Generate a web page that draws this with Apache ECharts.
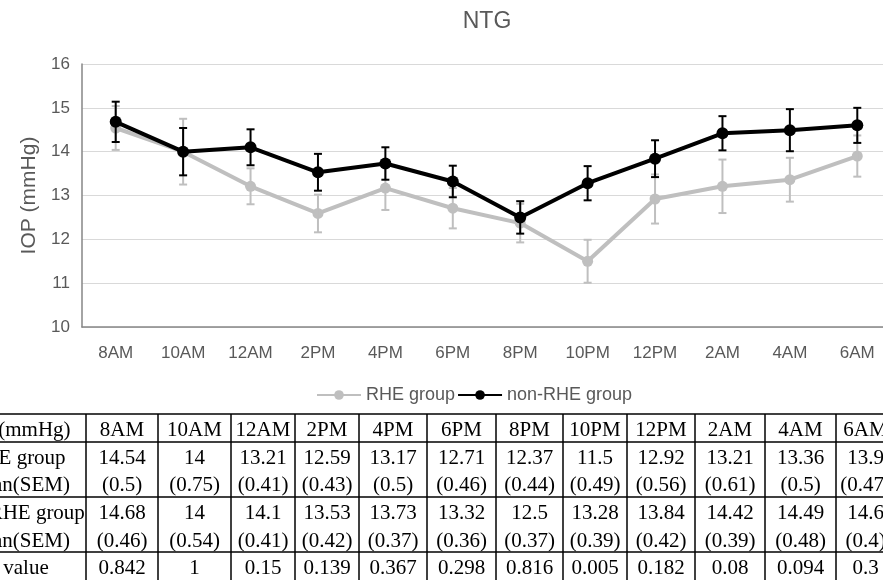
<!DOCTYPE html>
<html>
<head>
<meta charset="utf-8">
<script src="https://cdn.jsdelivr.net/npm/echarts@6/dist/echarts.min.js"></script>
<style>
html,body{margin:0;padding:0;background:#fff;}
#chart{width:883px;height:580px;}
</style>
</head>
<body>
<div id="chart"></div>
<script>
// ---- data ----
const categories = ['8AM','10AM','12AM','2PM','4PM','6PM','8PM','10PM','12PM','2AM','4AM','6AM'];
const rheMean = [14.54,14,13.21,12.59,13.17,12.71,12.37,11.5,12.92,13.21,13.36,13.9];
const rheSem  = [0.5,0.75,0.41,0.43,0.5,0.46,0.44,0.49,0.56,0.61,0.5,0.47];
const nonMean = [14.68,14,14.1,13.53,13.73,13.32,12.5,13.28,13.84,14.42,14.49,14.6];
const nonSem  = [0.46,0.54,0.41,0.42,0.37,0.36,0.37,0.39,0.42,0.39,0.48,0.4];
const pValues = ['0.842','1','0.15','0.139','0.367','0.298','0.816','0.005','0.182','0.08','0.094','0.3'];
const rowLabels = ['IOP(mmHg)','RHE group','Mean(SEM)','non-RHE group','Mean(SEM)','P value'];
const yTicks = [10,11,12,13,14,15,16];

// ---- layout (not data) ----
const colEdges = [-51, 86, 158, 231, 295, 359, 427, 496, 563, 627, 695, 765, 836, 895];
const rowEdges = [414, 442, 497, 552, 590];
const textRowsY = [430, 458, 485, 513, 541, 568];

const chart = echarts.init(document.getElementById('chart'));

function errRender(color){
  return function(params, api){
    const x = api.value(0), m = api.value(1), s = api.value(2);
    const top = api.coord([x, m + s]);
    const bot = api.coord([x, m - s]);
    const hw = 4;
    const st = {stroke: color, lineWidth: 2};
    return {type:'group', children:[
      {type:'line', shape:{x1:top[0], y1:top[1], x2:bot[0], y2:bot[1]}, style:st},
      {type:'line', shape:{x1:top[0]-hw, y1:top[1], x2:top[0]+hw, y2:top[1]}, style:st},
      {type:'line', shape:{x1:bot[0]-hw, y1:bot[1], x2:bot[0]+hw, y2:bot[1]}, style:st}
    ]};
  };
}

// table graphics
const graphics = [];
const serif = '21px "Liberation Serif", "Times New Roman", serif';
rowEdges.forEach(y => graphics.push({type:'line', shape:{x1:colEdges[0], y1:y, x2:colEdges[colEdges.length-1], y2:y}, style:{stroke:'#000', lineWidth:1.5}, z:10}));
colEdges.forEach(x => graphics.push({type:'line', shape:{x1:x, y1:rowEdges[0], x2:x, y2:rowEdges[rowEdges.length-1]}, style:{stroke:'#000', lineWidth:1.5}, z:10}));
function cellText(txt, cx, cy){
  graphics.push({type:'text', x:cx, y:cy, style:{text:txt, font:serif, fill:'#000', align:'center', verticalAlign:'middle'}, z:10});
}
rowLabels.forEach((t,r) => cellText(t, (colEdges[0]+colEdges[1])/2, textRowsY[r]));
categories.forEach((c,i) => {
  const cx = (colEdges[i+1]+colEdges[i+2])/2;
  cellText(c, cx, textRowsY[0]);
  cellText(String(rheMean[i]), cx, textRowsY[1]);
  cellText('(' + rheSem[i] + ')', cx, textRowsY[2]);
  cellText(String(nonMean[i]), cx, textRowsY[3]);
  cellText('(' + nonSem[i] + ')', cx, textRowsY[4]);
  cellText(pValues[i], cx, textRowsY[5]);
});

const sans = '"Liberation Sans", Arial, sans-serif';
chart.setOption({
  animation: false,
  backgroundColor: '#fff',
  title: {
    text: 'NTG', left: 482, top: 5, textAlign: 'center',
    textStyle: {fontFamily: sans, fontSize: 23, fontWeight: 'normal', color: '#595959'}
  },
  legend: {
    data: ['RHE group','non-RHE group'],
    left: 316, top: 386, padding: 0, itemWidth: 44, itemHeight: 12, itemGap: 2,
    textStyle: {fontFamily: sans, fontSize: 18, color: '#595959'}
  },
  grid: {left: 82, top: 64, width: 809, height: 263, containLabel: false, outerBoundsMode: 'none'},
  xAxis: {
    type: 'category', data: categories, boundaryGap: true,
    axisLine: {lineStyle: {color: '#868686', width: 1.5}},
    axisTick: {show: false},
    axisLabel: {fontFamily: sans, fontSize: 17, color: '#595959', margin: 18, interval: 0}
  },
  yAxis: {
    type: 'value', min: yTicks[0], max: yTicks[yTicks.length-1], interval: 1,
    name: 'IOP (mmHg)', nameLocation: 'middle', nameGap: 42,
    nameTextStyle: {fontFamily: sans, fontSize: 21, color: '#595959'},
    axisLine: {show: true, lineStyle: {color: '#868686', width: 1.5}},
    axisTick: {show: false},
    axisLabel: {fontFamily: sans, fontSize: 17, color: '#595959', margin: 12},
    splitLine: {lineStyle: {color: '#d9d9d9', width: 1}}
  },
  series: [
    {
      name: 'RHE group', type: 'line', data: rheMean,
      symbol: 'circle', symbolSize: 11,
      lineStyle: {color: '#bfbfbf', width: 4},
      itemStyle: {color: '#bfbfbf'}, z: 2
    },
    {
      name: 'RHE err', type: 'custom',
      data: categories.map((c,i) => [i, rheMean[i], rheSem[i]]),
      encode: {x: 0, y: 1},
      renderItem: errRender('#bfbfbf'), z: 3
    },
    {
      name: 'non-RHE group', type: 'line', data: nonMean,
      symbol: 'circle', symbolSize: 12,
      lineStyle: {color: '#000', width: 4},
      itemStyle: {color: '#000'}, z: 4
    },
    {
      name: 'non-RHE err', type: 'custom',
      data: categories.map((c,i) => [i, nonMean[i], nonSem[i]]),
      encode: {x: 0, y: 1},
      renderItem: errRender('#000'), z: 5
    }
  ],
  graphic: graphics
});
</script>
</body>
</html>
